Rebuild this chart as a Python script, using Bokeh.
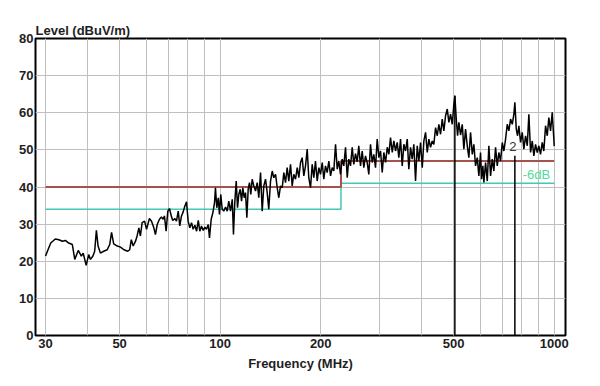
from bokeh.plotting import figure
from bokeh.models import Range1d, FixedTicker, PrintfTickFormatter
from bokeh.core.properties import value
from bokeh.embed import file_html
from bokeh.resources import INLINE

# ---- data ----
freq_mhz = [
    30.0, 31.1, 32.1, 32.9, 33.7, 34.4, 35.2, 36.1, 36.7, 37.6,
    38.4, 38.9, 39.7, 40.4, 40.9, 41.6, 42.1, 42.6, 43.1, 43.8,
    44.8, 45.9, 46.7, 47.3, 48.0, 49.2, 50.3, 51.5, 52.9, 53.6,
    54.2, 54.9, 55.8, 56.4, 57.1, 57.7, 58.4, 59.4, 60.2, 61.4,
    62.3, 63.3, 64.0, 64.8, 65.8, 66.7, 67.5, 68.1, 68.9, 69.7,
    70.5, 71.4, 72.1, 73.2, 74.0, 74.9, 75.7, 76.6, 77.5, 78.4,
    79.3, 80.2, 81.1, 82.1, 83.0, 84.0, 85.0, 86.0, 86.9, 87.9,
    89.0, 90.0, 91.0, 92.1, 92.9, 94.0, 95.1, 96.2, 96.8, 97.7,
    98.7, 99.5, 100.4, 101.4, 102.5, 103.8, 105.0, 106.1, 107.4, 108.7,
    109.6, 110.6, 111.7, 112.7, 113.7, 114.8, 115.9, 116.9, 118.0, 119.1,
    120.2, 121.3, 122.4, 123.5, 124.7, 126.1, 127.6, 129.1, 130.5, 132.1,
    133.6, 135.1, 136.7, 138.3, 139.8, 141.5, 143.2, 144.7, 146.5, 148.2,
    149.8, 151.6, 153.4, 155.1, 156.9, 158.7, 160.5, 162.4, 164.3, 166.1,
    168.1, 170.1, 172.0, 174.0, 176.0, 178.0, 180.1, 182.2, 184.2, 186.4,
    188.6, 190.7, 192.9, 195.2, 197.4, 199.7, 202.1, 204.3, 206.7, 209.1,
    211.5, 214.0, 216.5, 218.9, 221.5, 224.1, 226.5, 229.2, 231.9, 234.5,
    237.3, 240.1, 242.7, 245.6, 248.5, 251.2, 254.2, 257.2, 260.0, 263.1,
    266.2, 269.2, 272.3, 275.5, 278.6, 281.9, 285.2, 288.4, 291.8, 295.2,
    298.6, 302.1, 305.6, 309.0, 312.7, 316.4, 319.9, 323.6, 327.5, 331.1,
    335.0, 338.9, 342.7, 346.7, 350.8, 354.7, 358.9, 363.1, 367.1, 371.5,
    375.8, 380.0, 384.5, 389.0, 393.4, 398.0, 402.7, 407.2, 412.0, 416.8,
    421.4, 426.4, 431.4, 436.2, 441.4, 446.6, 451.5, 456.9, 462.2, 467.4,
    472.9, 478.5, 483.8, 489.5, 495.3, 500.7, 504.2, 509.1, 513.7, 518.3,
    524.4, 530.6, 536.5, 542.8, 549.2, 555.3, 561.8, 568.5, 574.8, 581.5,
    588.4, 594.9, 601.9, 606.1, 611.6, 615.8, 623.1, 630.4, 637.4, 644.9,
    652.5, 659.8, 667.5, 675.4, 682.9, 690.9, 699.1, 706.8, 715.2, 723.6,
    731.6, 740.2, 749.0, 757.3, 762.5, 769.9, 776.8, 783.8, 793.1, 802.4,
    811.3, 820.9, 830.6, 839.8, 849.7, 859.7, 869.1, 879.3, 889.7, 899.5,
    910.1, 920.9, 931.1, 942.1, 953.2, 963.7, 975.1, 986.6, 997.5, 1000.0,
]
level_dbuv = [
    21.4, 24.9, 26.0, 25.8, 25.4, 25.6, 24.9, 24.5, 20.5, 22.9,
    21.4, 22.2, 18.9, 21.8, 20.5, 21.4, 22.7, 28.3, 24.1, 22.2,
    22.7, 23.1, 24.5, 27.8, 24.7, 24.1, 23.8, 23.1, 22.7, 23.1,
    25.8, 24.1, 25.4, 26.8, 29.0, 26.8, 30.4, 30.8, 28.6, 31.5,
    30.8, 29.0, 27.2, 29.9, 31.3, 31.9, 31.3, 32.2, 28.1, 33.5,
    34.2, 32.2, 31.0, 31.5, 30.8, 33.5, 29.5, 32.2, 33.3, 34.9,
    36.0, 30.8, 29.0, 30.4, 28.6, 29.7, 28.1, 31.0, 28.1, 29.5,
    28.3, 29.2, 28.6, 29.9, 26.3, 31.3, 33.1, 35.8, 39.8, 34.4,
    37.1, 32.6, 38.0, 34.0, 33.5, 34.6, 33.5, 36.2, 33.5, 36.7,
    27.2, 35.8, 41.6, 34.4, 38.0, 39.4, 36.2, 39.8, 37.1, 38.5,
    31.7, 39.4, 41.2, 38.0, 42.1, 40.3, 38.9, 41.2, 37.1, 43.9,
    33.5, 40.3, 42.1, 38.5, 34.0, 41.6, 44.3, 42.5, 43.4, 39.8,
    37.1, 40.3, 39.8, 43.9, 41.2, 45.2, 41.6, 46.1, 40.3, 43.4,
    42.1, 45.2, 42.5, 46.6, 47.9, 43.0, 45.7, 50.2, 42.5, 39.8,
    46.1, 42.5, 47.0, 41.6, 45.2, 43.4, 46.6, 42.1, 45.7, 43.9,
    47.0, 43.0, 45.2, 44.3, 51.5, 44.8, 47.0, 43.4, 47.5, 45.7,
    50.7, 42.5, 47.5, 45.7, 50.7, 46.1, 49.0, 46.8, 51.1, 45.7,
    49.7, 45.2, 48.4, 46.6, 43.4, 51.5, 46.6, 48.8, 45.2, 52.9,
    47.9, 49.7, 43.9, 49.3, 46.6, 50.7, 48.8, 53.3, 49.3, 52.4,
    49.7, 52.0, 47.9, 52.9, 45.7, 51.5, 49.7, 52.9, 44.8, 50.7,
    47.5, 51.5, 41.6, 51.1, 47.0, 52.0, 45.2, 52.4, 54.7, 49.3,
    52.9, 50.7, 52.4, 51.5, 56.0, 53.8, 56.9, 54.2, 58.3, 55.1,
    59.2, 61.0, 57.4, 59.6, 56.9, 62.3, 64.6, 58.3, 53.8, 57.4,
    54.0, 56.9, 50.2, 55.6, 51.1, 47.9, 54.7, 48.8, 51.5, 45.7,
    47.9, 43.0, 49.3, 42.1, 45.7, 41.2, 46.6, 41.6, 51.1, 43.0,
    47.5, 44.3, 50.7, 45.7, 49.3, 47.0, 52.0, 49.7, 52.9, 56.9,
    55.1, 58.3, 56.9, 59.6, 62.8, 55.6, 53.8, 56.5, 52.0, 54.7,
    50.2, 53.8, 51.1, 59.6, 49.3, 52.4, 48.4, 51.5, 49.3, 51.1,
    48.8, 52.0, 49.7, 56.5, 53.8, 58.7, 55.1, 60.1, 52.9, 51.0,
]

limit_freq = [30, 230, 230, 1000]
limit_level = [40, 40, 47, 47]
margin_level = [34, 34, 41, 41]
margin_label = "-6dB"

marker_freq = [504.2, 762.5]
marker_level = [64.6, 48.4]
marker_label = ["", "2"]

x_label_ticks = [30, 50, 100, 200, 500, 1000]
x_grid_ticks = [30, 40, 50, 60, 70, 80, 90, 100, 200, 300, 400, 500, 600, 700, 800, 900, 1000]
y_ticks = [0, 10, 20, 30, 40, 50, 60, 70, 80]

FONT = "Liberation Sans"
TXT = "#1e1e1e"

p = figure(
    width=592, height=378,
    x_axis_type="log",
    x_range=Range1d(28.0, 1081.0),
    y_range=Range1d(0, 80),
    output_backend="svg",
    toolbar_location=None,
    min_border_left=35, min_border_right=27,
    min_border_top=38, min_border_bottom=43,
    title="Level (dBuV/m)",
)
p.background_fill_color = "white"
p.border_fill_color = "white"
p.outline_line_color = "black"
p.outline_line_width = 2

p.title.text_font = FONT
p.title.text_font_size = "13px"
p.title.text_font_style = "bold"
p.title.text_color = TXT
p.title.align = "left"
p.title.standoff = 1
p.title.offset = 0

p.xaxis.ticker = FixedTicker(ticks=x_label_ticks, minor_ticks=x_grid_ticks)
p.xaxis.formatter = PrintfTickFormatter(format="%d")
p.yaxis.ticker = FixedTicker(ticks=y_ticks)
for ax in (p.xaxis[0], p.yaxis[0]):
    ax.axis_line_color = None
    ax.major_tick_line_color = None
    ax.minor_tick_line_color = None
    ax.major_tick_out = 0
    ax.major_tick_in = 0
    ax.minor_tick_out = 0
    ax.minor_tick_in = 0
    ax.major_label_text_font = FONT
    ax.major_label_text_font_size = "13px"
    ax.major_label_text_font_style = "bold"
    ax.major_label_text_color = TXT
    ax.major_label_standoff = 3
p.yaxis.major_label_standoff = 2
p.xaxis.axis_label = "Frequency (MHz)"
p.xaxis.axis_label_text_font = FONT
p.xaxis.axis_label_text_font_size = "13px"
p.xaxis.axis_label_text_font_style = "bold"
p.xaxis.axis_label_text_color = TXT
p.xaxis.axis_label_standoff = 5

p.xgrid.grid_line_color = "#c0c0c0"
p.xgrid.minor_grid_line_color = "#c0c0c0"
p.ygrid.grid_line_color = "#c0c0c0"
p.xgrid.grid_line_width = 1
p.ygrid.grid_line_width = 1

# limit lines
p.line(limit_freq, margin_level, line_color="#46c8b4", line_width=1.5)
p.line(limit_freq, limit_level, line_color="#a4524e", line_width=2)

# measured trace
p.line(freq_mhz, level_dbuv, line_color="black", line_width=1.5)

# marker lines
p.segment(x0=marker_freq, y0=marker_level, x1=marker_freq, y1=[0] * len(marker_freq),
          line_color="black", line_width=1.5)
p.text(x=[marker_freq[1]], y=[marker_level[1] + 2.4], text=[marker_label[1]],
       text_font=value(FONT), text_font_size="13px", text_color="#333333",
       text_align="center", text_baseline="middle", x_offset=-2)

# -6dB label
p.text(x=[limit_freq[-1]], y=[margin_level[-1] + 2.5], text=[margin_label],
       text_font=value(FONT), text_font_size="13px", text_color="#50dc9c",
       text_align="right", text_baseline="middle", x_offset=-4)

open("out.html", "w").write(file_html(p, INLINE))
